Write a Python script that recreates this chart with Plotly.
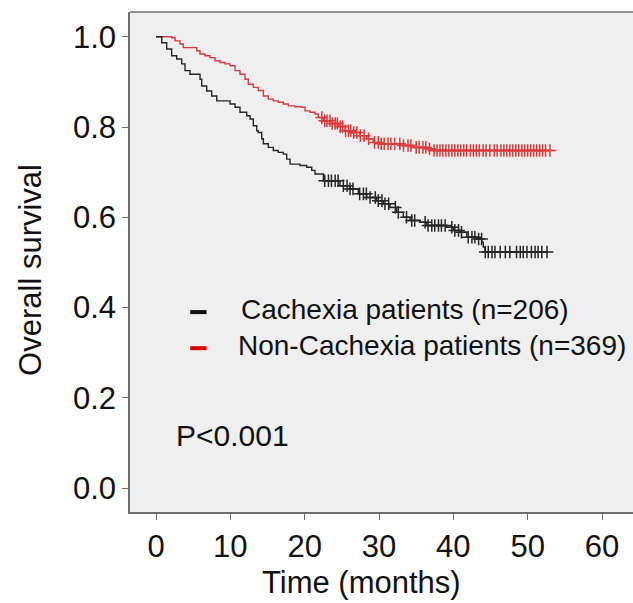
import numpy as np
import plotly.graph_objects as go

# ---- data (Kaplan-Meier steps) ----
cach_time = [0, 0.77, 1.44, 2.11, 2.78, 3.46, 3.90, 4.57, 5.92, 6.15, 6.82, 7.49, 8.17, 9.96, 10.63,
             11.30, 12.20, 12.65, 13.09, 13.55, 13.76, 14.22, 14.44, 15.11, 15.78, 16.45, 17.13, 17.58,
             18.03, 19.37, 20.27, 20.95, 21.39, 22.51, 24.75, 26.10, 27.22, 28.35, 29.69, 30.58, 31.48,
             32.38, 33.27, 34.17, 35.52, 36.42, 39.11, 40.00, 40.90, 41.80, 43.15, 43.82, 44.03, 44.26, 52.6]
cach_surv = [1.0, 0.987, 0.973, 0.958, 0.951, 0.940, 0.925, 0.917, 0.906, 0.891, 0.880, 0.869, 0.858, 0.851,
             0.844, 0.833, 0.825, 0.818, 0.803, 0.792, 0.788, 0.774, 0.763, 0.755, 0.748, 0.744, 0.740,
             0.729, 0.718, 0.715, 0.711, 0.704, 0.696, 0.681, 0.670, 0.663, 0.652, 0.644, 0.637, 0.630,
             0.622, 0.611, 0.600, 0.593, 0.589, 0.582, 0.578, 0.571, 0.567, 0.556, 0.552, 0.545, 0.534,
             0.523, 0.523]
cach_censor = [22.7, 23.2, 23.6, 24.1, 24.5, 25.2, 25.7, 26.1, 26.5, 27.4, 27.9, 28.3, 28.8, 29.5, 29.9,
               30.4, 30.8, 31.3, 32.2, 32.6, 33.7, 34.4, 34.8, 36.2, 36.6, 37.1, 37.5, 38.0, 38.4, 38.9,
               39.8, 40.2, 40.7, 41.1, 42.0, 42.5, 42.9, 43.4, 43.8, 44.3, 44.7, 45.2, 45.6, 46.3, 47.0,
               47.6, 48.5, 49.0, 49.4, 49.9, 50.5, 51.0, 51.4, 51.9, 52.6]

non_time = [0, 2.11, 2.56, 3.23, 3.67, 5.48, 5.92, 6.59, 7.26, 7.94, 8.61, 9.28, 9.96, 10.63, 11.30,
            11.97, 12.42, 13.09, 13.76, 14.44, 15.11, 15.78, 16.45, 17.13, 17.80, 18.70, 19.60, 20.05,
            20.72, 21.39, 21.84, 22.51, 23.41, 24.53, 25.43, 26.33, 27.45, 28.35, 29.24, 30.14, 32.83,
            34.62, 36.42, 37.31, 53.0]
non_surv = [1.0, 0.998, 0.991, 0.984, 0.976, 0.969, 0.962, 0.958, 0.954, 0.947, 0.943, 0.940, 0.936,
            0.925, 0.917, 0.906, 0.895, 0.888, 0.881, 0.869, 0.862, 0.858, 0.855, 0.851, 0.847, 0.845,
            0.844, 0.836, 0.833, 0.829, 0.821, 0.814, 0.808, 0.801, 0.792, 0.788, 0.781, 0.774, 0.766,
            0.763, 0.759, 0.755, 0.752, 0.748, 0.748]
non_censor = [22.3, 22.7, 23.0, 23.4, 23.7, 24.1, 24.4, 24.8, 25.1, 25.5, 25.9, 26.2, 26.6, 27.0, 27.5,
              28.0, 28.6, 29.4, 29.9, 30.3, 30.7, 31.2, 31.6, 32.1, 32.8, 33.3, 33.9, 34.3, 35.0, 35.4,
              35.9, 36.3, 36.8, 37.4, 37.8, 38.2, 38.6, 39.0, 39.4, 39.8, 40.2, 40.6, 41.0, 41.4, 41.8,
              42.3, 42.7, 43.1, 43.5, 44.0, 44.4, 44.9, 45.5, 45.9, 46.4, 46.8, 47.2, 47.6, 48.0, 48.4,
              48.8, 49.2, 49.6, 50.0, 50.4, 50.8, 51.2, 51.6, 52.0, 52.4, 53.0]

labels = ["Cachexia patients (n=206)", "Non-Cachexia patients (n=369)"]
x_ticks = [0, 10, 20, 30, 40, 50, 60]
y_ticks = [0.0, 0.2, 0.4, 0.6, 0.8, 1.0]

BLACK = "#262626"
RED = "#d93a3a"
FONT = "Liberation Sans, Arial, sans-serif"


def step_value(times, surv, t):
    idx = np.searchsorted(np.asarray(times), t, side="right") - 1
    return np.asarray(surv)[idx]


fig = go.Figure()
for times, surv, cens, col in [(non_time, non_surv, non_censor, RED),
                               (cach_time, cach_surv, cach_censor, BLACK)]:
    fig.add_trace(go.Scatter(x=times, y=surv, mode="lines", line=dict(color=col, width=1.4, shape="hv"),
                             showlegend=False, hoverinfo="skip"))
    fig.add_trace(go.Scatter(x=cens, y=step_value(times, surv, cens), mode="markers",
                             marker=dict(symbol="cross-thin", size=9, line=dict(color=col, width=1.5)),
                             showlegend=False, hoverinfo="skip"))

# legend drawn in-plot
leg_y = [0.39, 0.31]
leg_col = ["#111111", "#e00000"]
for lab, yy, col in zip(labels, leg_y, leg_col):
    fig.add_shape(type="line", xref="x", yref="y", x0=4.6, x1=6.8, y0=yy, y1=yy,
                  line=dict(color=col, width=4))
fig.add_annotation(x=11.1, y=leg_y[0] + 0.006, xref="x", yref="y", text=labels[0], showarrow=False,
                   xanchor="left", yanchor="middle", font=dict(size=28, color="#111", family=FONT))
fig.add_annotation(x=10.8, y=leg_y[1] + 0.006, xref="x", yref="y", text=labels[1], showarrow=False,
                   xanchor="left", yanchor="middle", font=dict(size=28, color="#111", family=FONT))
fig.add_annotation(x=2.4, y=0.117, xref="x", yref="y", text="P<0.001", showarrow=False,
                   xanchor="left", yanchor="middle", font=dict(size=30, color="#111", family=FONT))

# axis titles
fig.add_annotation(x=0.461, y=-0.14, xref="paper", yref="paper", text="Time (months)", showarrow=False,
                   xanchor="center", yanchor="middle", font=dict(size=31, color="#111", family=FONT))
fig.add_annotation(x=-0.199, y=0.484, xref="paper", yref="paper", text="Overall survival", showarrow=False,
                   textangle=-90, xanchor="center", yanchor="middle",
                   font=dict(size=31, color="#111", family=FONT))

axis_common = dict(showgrid=False, zeroline=False, showline=True, linecolor="#6e6e6e", linewidth=1.5,
                   ticks="outside", ticklen=6, tickwidth=1.3, tickcolor="#6e6e6e", automargin=False,
                   tickfont=dict(size=31, color="#111", family=FONT))
fig.update_xaxes(range=[-3.5, 64.17], tickvals=x_ticks, ticktext=[str(v) for v in x_ticks],
                 mirror=False, **axis_common)
fig.update_yaxes(range=[-0.053, 1.055], tickvals=y_ticks, ticktext=[f"{v:.1f}" for v in y_ticks],
                 **axis_common)
# top border of the box
fig.add_shape(type="line", xref="paper", yref="paper", x0=0, x1=1, y0=1, y1=1,
              line=dict(color="#6e6e6e", width=1.5))

fig.update_layout(width=633, height=603, margin=dict(l=130, r=0, t=12, b=91),
                  plot_bgcolor="#efefef", paper_bgcolor="white", font=dict(family=FONT))

fig.write_html("out.html", config={"displayModeBar": False},
               post_script="document.body.style.margin='0px';document.body.style.overflow='hidden';")
